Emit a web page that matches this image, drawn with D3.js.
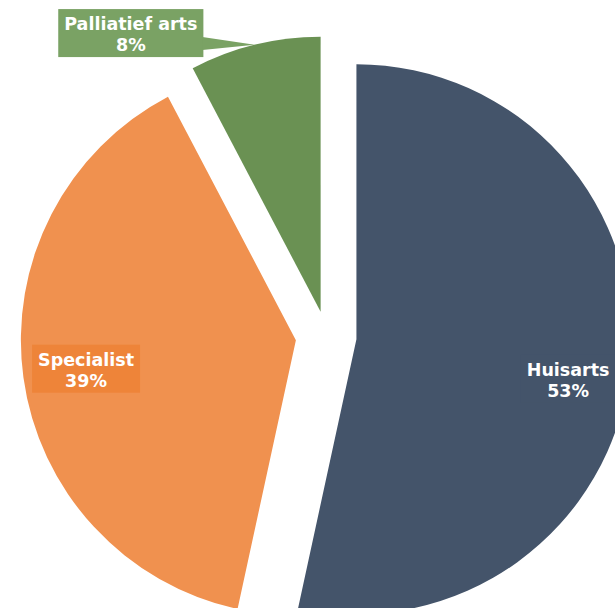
<!DOCTYPE html>
<html>
<head>
<meta charset="utf-8">
<script src="https://cdn.jsdelivr.net/npm/d3@7"></script>
<style>
  html, body { margin: 0; padding: 0; background: #ffffff; }
  svg { display: block; }
  .lbl { font-family: "DejaVu Sans", Verdana, sans-serif; font-weight: bold; font-size: 17.5px; fill: #ffffff; }
</style>
</head>
<body>
<script>
// Share of end-of-life care by type of physician
const categories = ["Huisarts", "Specialist", "Palliatief arts"];
const shares = [53.4, 38.9, 7.7];

// Styling per slice
const sliceColors = ["#44546A", "#F0914F", "#6A9153"];
const labelFills = ["#44546A", "#EE8439", "#7AA264"];
const explode = [30, 31, 25];          // px each slice is pulled out
const labelAngleShift = [4.4, 0, -20.4]; // degrees relative to slice mid-angle
const labelRadius = [0.783, 0.77, 1.226]; // fraction of radius, from slice apex
const labelCallout = [false, false, true];

const W = 615, H = 608;
const cx = 326.6, cy = 336, R = 275;

const svg = d3.select("body").append("svg")
  .attr("width", W).attr("height", H);

const data = categories.map((c, i) => ({ name: c, value: shares[i], i }));
const total = d3.sum(shares);
const pct = v => Math.round(v / total * 100) + "%";

const pie = d3.pie().sort(null).value(d => d.value).startAngle(0).endAngle(2 * Math.PI);
const arc = d3.arc().innerRadius(0).outerRadius(R);
const arcs = pie(data);

const polar = (a, r) => [Math.sin(a) * r, -Math.cos(a) * r];

const g = svg.append("g").attr("transform", `translate(${cx},${cy})`);

const slices = g.selectAll("g.slice").data(arcs).join("g")
  .attr("class", "slice")
  .attr("transform", d => {
    const mid = (d.startAngle + d.endAngle) / 2;
    const [dx, dy] = polar(mid, explode[d.data.i]);
    return `translate(${dx},${dy})`;
  });

slices.append("path")
  .attr("d", arc)
  .attr("fill", d => sliceColors[d.data.i]);

// Data labels: two lines (name, percentage) on a filled box
slices.each(function(d) {
  const i = d.data.i;
  const sel = d3.select(this);
  const mid = (d.startAngle + d.endAngle) / 2;
  const a = mid + labelAngleShift[i] * Math.PI / 180;
  const [lx, ly] = polar(a, R * labelRadius[i]);

  const lg = sel.append("g").attr("transform", `translate(${lx},${ly})`);
  const box = lg.append("rect").attr("fill", labelFills[i]);
  const pointer = lg.append("path").attr("fill", labelFills[i]);

  const t = lg.append("text").attr("class", "lbl").attr("text-anchor", "middle");
  t.append("tspan").attr("x", 0).attr("y", -3).text(d.data.name);
  t.append("tspan").attr("x", 0).attr("y", 18).text(pct(d.data.value));

  const w = t.node().getBBox().width + 12;
  const h = 48;
  box.attr("x", -w / 2).attr("y", -24).attr("width", w).attr("height", h);

  if (labelCallout[i]) {
    const [tx, ty] = polar(mid, R);
    pointer.attr("d", `M${w / 2 - 1},4 L${tx - lx},${ty - ly} L${w / 2 - 1},17 Z`);
  }
});
</script>
</body>
</html>
